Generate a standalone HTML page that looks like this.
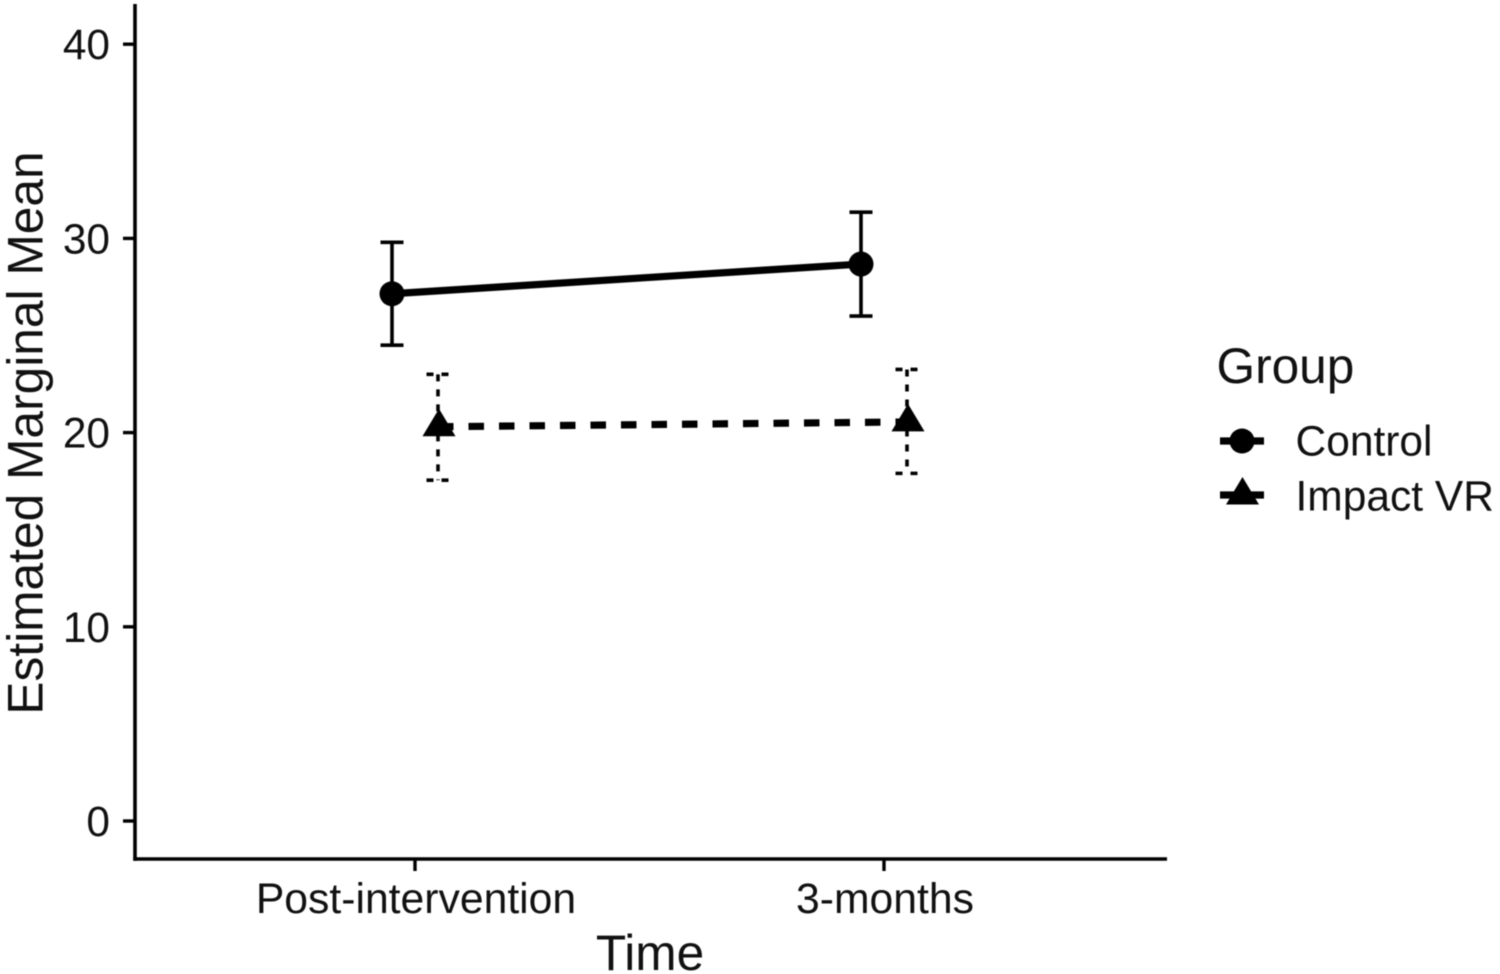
<!DOCTYPE html>
<html lang="en">
<head>
<meta charset="utf-8">
<title>Estimated Marginal Mean by Time and Group</title>
<style>
html,body{margin:0;padding:0;background:#fff;width:1500px;height:974px;overflow:hidden}
svg{display:block;position:absolute;left:0;top:0;filter:blur(0.4px)}
text{font-family:"Liberation Sans",Arial,sans-serif;fill:#111}
</style>
</head>
<body>
<svg id="chart" xmlns="http://www.w3.org/2000/svg" width="1500" height="974" viewBox="0 0 1500 974"></svg>
<script>
const categories = ['Post-intervention', '3-months'];
const yTicks = [0, 10, 20, 30, 40];
const groupNames = ['Control', 'Impact VR'];
const controlMeans = [27.15, 28.68];
const controlLower = [24.5, 26.0];
const controlUpper = [29.8, 31.35];
const impactMeans = [20.3, 20.55];
const impactLower = [17.55, 17.9];
const impactUpper = [23.0, 23.25];

const svg = document.getElementById('chart');
const NS = 'http://www.w3.org/2000/svg';
const plot = {left: 135, right: 1167, top: 4, bottom: 859};
const yScale = v => 821 - v * 19.42;
const xScale = i => 415 + i * 469;
const dodge = [-23, 23];

function make(tag, attrs, parent) {
  const el = document.createElementNS(NS, tag);
  for (const k in attrs) el.setAttribute(k, attrs[k]);
  (parent || svg).appendChild(el);
  return el;
}
function seg(x1, y1, x2, y2, w, dash, parent) {
  const a = {x1: x1, y1: y1, x2: x2, y2: y2, stroke: '#000', 'stroke-width': w};
  if (dash) a['stroke-dasharray'] = dash;
  return make('line', a, parent);
}
function tri(cx, cy, parent) {
  return make('polygon', {points: (cx - 16.5) + ',' + (cy + 9.5) + ' ' + (cx + 16.5) + ',' + (cy + 9.5) + ' ' + cx + ',' + (cy - 18), fill: '#000'}, parent);
}
function label(str, x, y, size, anchor, parent) {
  const t = make('text', {x: x, y: y, 'font-size': size, 'text-anchor': anchor}, parent);
  t.textContent = str;
  return t;
}

/* axes */
const yAxis = seg(plot.left, plot.top, plot.left, plot.bottom + 1.7, 3.6);


const xAxis = seg(plot.left - 1.7, plot.bottom, plot.right, plot.bottom, 3.6);



yTicks.forEach(v => {
  const tick = seg(plot.left - 12, yScale(v), plot.left, yScale(v), 3.4);
  
  
  const lab = label(String(v), 110, yScale(v) + 15, 42.4, 'end');
  
  
});
categories.forEach((c, i) => {
  const tick = seg(xScale(i), plot.bottom, xScale(i), plot.bottom + 12, 3.4);
  
  
  const lab = label(c, xScale(i) + 1, 913, 42.7, 'middle');
  
  
});

const xTitle = label('Time', 650, 970, 49.6, 'middle');


const yTitle = label('Estimated Marginal Mean', 0, 0, 49.7, 'middle');
yTitle.setAttribute('transform', 'translate(42.5 433) rotate(-90)');



/* series */
function drawSeries(means, lower, upper, offset, lineDash, barDash, marker, name) {
  const g = make('g', {});
  
  
  means.forEach((m, i) => {
    const x = xScale(i) + offset;
    const bar = seg(x, yScale(upper[i]), x, yScale(lower[i]), 3.6, barDash, g);
    
    
    const capTop = seg(x - 11.5, yScale(upper[i]), x + 11.5, yScale(upper[i]), 3.6, barDash, g);
    
    
    const capBottom = seg(x - 11.5, yScale(lower[i]), x + 11.5, yScale(lower[i]), 3.6, barDash, g);
    
    
  });
  const line = seg(xScale(0) + offset, yScale(means[0]), xScale(1) + offset, yScale(means[1]), 7.2, lineDash, g);
  
  
  means.forEach((m, i) => {
    const x = xScale(i) + offset;
    const pt = marker(x, yScale(m), g);
    
    
  });
}
const circ = (cx, cy, parent) => make('circle', {cx: cx, cy: cy, r: 12.5, fill: '#000'}, parent);
drawSeries(controlMeans, controlLower, controlUpper, dodge[0], null, null, circ, 'control');
drawSeries(impactMeans, impactLower, impactUpper, dodge[1], '15.5 15', '7 8', (x, y, p) => tri(x + 1, y, p), 'impact-vr');

/* legend */
const legendTitle = label('Group', 1216.5, 383, 49.6, 'start');


groupNames.forEach((n, i) => {
  const y = i === 0 ? 441 : 495;
  const g = make('g', {});
  
  
  seg(1220, y, 1264, y, 7.2, i === 0 ? null : '15.5 15', g);
  if (i === 0) circ(1242, y, g); else tri(1242.5, y, g);
  const t = label(n, 1295.5, i === 0 ? 455.5 : 510.5, 42.5, 'start', g);
  
  
});
</script>
</body>
</html>
